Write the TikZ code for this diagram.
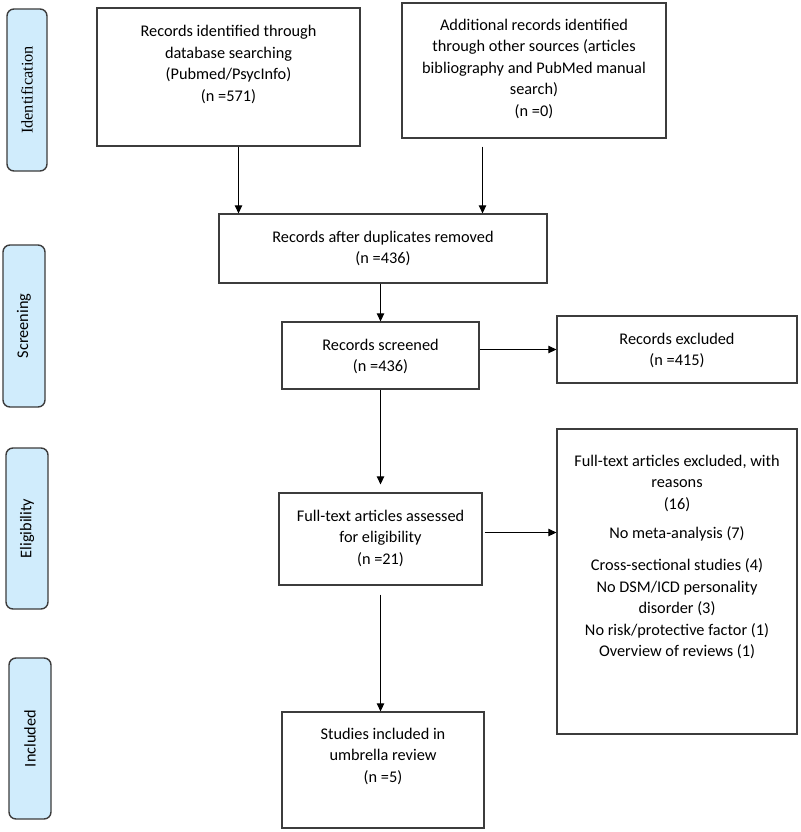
\documentclass[tikz,border=0pt]{standalone}
\usepackage{fontspec}
\setmainfont{Carlito}
\newfontfamily\serifsel{Liberation Serif}
\usetikzlibrary{arrows.meta}
\definecolor{sidefill}{RGB}{208,236,252}
\definecolor{edge}{RGB}{60,60,60}
\newcommand\tbx[4]{\parbox[c][#2][t]{#1}{\centering\vspace*{#3}\strut#4\par}}
\tikzset{
  box/.style={draw=edge, line width=1.3pt, inner sep=0pt, fill=white},
  side/.style={draw=edge, line width=1.4pt, fill=sidefill, rounded corners=7pt, inner sep=0pt},
  sidelabel/.style={rotate=90, inner sep=0pt},
  arr/.style={draw=black, line width=1.2pt, -{Triangle[length=8pt,width=7.5pt]}}
}
\begin{document}
\begin{tikzpicture}[x=1pt,y=-1pt,font=\fontsize{16.3}{21.6}\selectfont]
\useasboundingbox (0,0) rectangle (800,832);
% side boxes
\node[side, minimum width=40pt, minimum height=162pt] (sIdent) at (27,90) {};
\node[sidelabel, font=\serifsel\fontsize{16.3}{18}\selectfont] (lIdent) at (sIdent.center) {Identification};
\node[side, minimum width=42pt, minimum height=162pt] (sScreen) at (24,326) {};
\node[sidelabel] (lScreen) at (sScreen.center) {Screening};
\node[side, minimum width=42pt, minimum height=161pt] (sElig) at (27,528.5) {};
\node[sidelabel] (lElig) at (sElig.center) {Eligibility};
\node[side, minimum width=42pt, minimum height=161pt] (sIncl) at (30,738.5) {};
\node[sidelabel] (lIncl) at (sIncl.center) {Included};
% flow boxes
\node[box] (box1) at (228.5,77) {\tbx{263pt}{138pt}{13.5pt}{Records identified through\\database searching\\(Pubmed/PsycInfo)\\(n =571)}};
\node[box] (box2) at (534,70.5) {\tbx{264pt}{135pt}{12pt}{Additional records identified\\through other sources (articles\\bibliography and PubMed manual\\search)\\(n =0)}};
\node[box] (box3) at (383,248.5) {\tbx{328pt}{69pt}{13pt}{Records after duplicates removed\\(n =436)}};
\node[box] (box4) at (380.5,355.5) {\tbx{197pt}{67pt}{13pt}{Records screened\\(n =436)}};
\node[box] (box5) at (677,349.5) {\tbx{240pt}{67pt}{13pt}{Records excluded\\(n =415)}};
\node[box] (box6) at (380.5,539) {\tbx{203pt}{92pt}{13pt}{Full-text articles assessed\\for eligibility\\(n =21)}};
\node[box] (box7) at (677,581.5) {\tbx{240pt}{305pt}{22pt}{Full-text articles excluded, with\\reasons\\(16)\\[8pt]No meta-analysis (7)\\[10pt]Cross-sectional studies (4)\\No DSM/ICD personality\\disorder (3)\\No risk/protective factor (1)\\Overview of reviews (1)}};
\node[box] (box8) at (383,770) {\tbx{202pt}{116pt}{12pt}{Studies included in\\umbrella review\\(n =5)}};
% connectors
\draw[arr] ([xshift=10pt]box1.south) coordinate (a1) -- (a1 |- box3.north);
\draw[arr, shorten <=8pt] ([xshift=-51.5pt]box2.south) coordinate (a2) -- (a2 |- box3.north);
\draw[arr] (box4.north |- box3.south) -- (box4.north);
\draw[arr] (box4.east |- box5.west) -- (box5.west);
\draw[arr, shorten >=8pt] (box4.south) -- (box6.north);
\draw[arr, shorten <=2pt] ([yshift=6.5pt]box6.east) coordinate (a6) -- (a6 -| box7.west);
\draw[arr, shorten <=9pt] (box6.south) -- (box6.south |- box8.north);
\end{tikzpicture}
\end{document}
